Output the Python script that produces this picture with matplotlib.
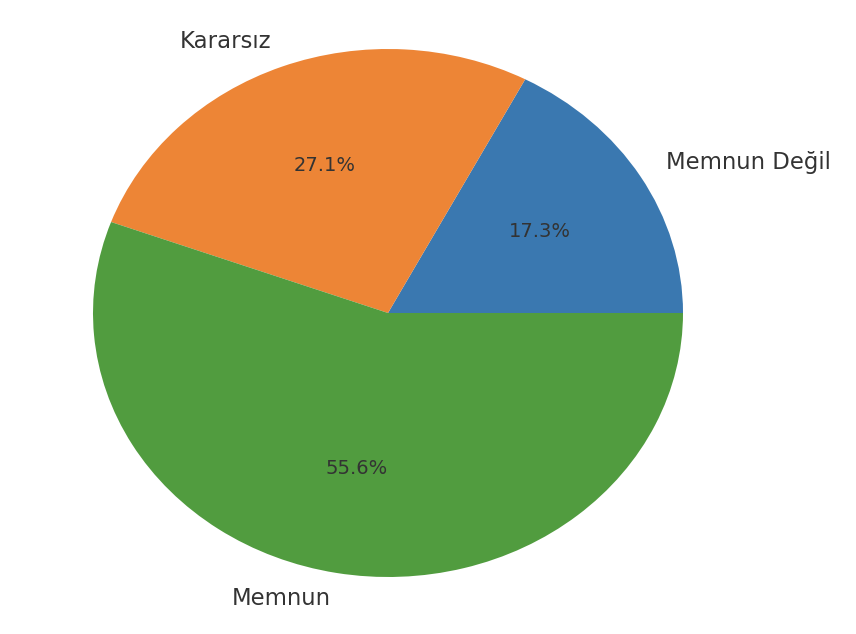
import matplotlib
matplotlib.use("Agg")
import matplotlib.pyplot as plt
import seaborn as sns

sns.set_style("white")
plt.rcParams['font.family'] = ['DejaVu Sans']

labels = ['Memnun Değil', 'Kararsız', 'Memnun']
values = [17.3, 27.1, 55.6]
colors = ['#3a78b0', '#ed8536', '#519c3f']

fig = plt.figure(figsize=(8.56, 6.34), dpi=100)
ax = fig.add_axes([19.25 / 856, -9 / 634, 737.5 / 856, 660 / 634])
wedges, texts, autotexts = ax.pie(values, labels=labels, colors=colors,
                                  autopct='%1.1f%%', startangle=0,
                                  wedgeprops={'linewidth': 0},
                                  textprops={'color': '#333333'})
ax.set_aspect('auto')
ax.set_xlim(-1.25, 1.25)
ax.set_ylim(-1.25, 1.25)
for t in texts:
    t.set_fontsize(16.4)
for t in autotexts:
    t.set_fontsize(14)

fig.savefig('out.png', dpi=100)
